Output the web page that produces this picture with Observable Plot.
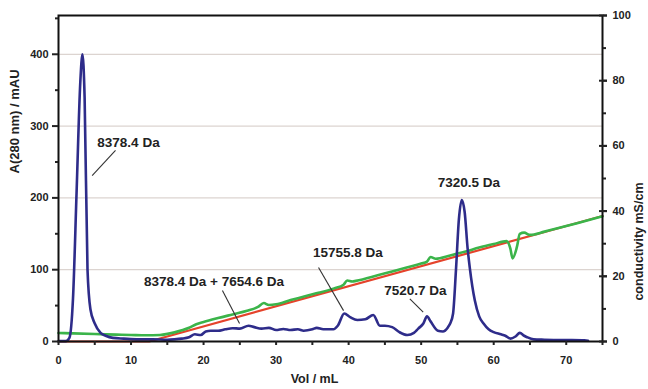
<!DOCTYPE html>
<html><head><meta charset="utf-8">
<script src="https://cdn.jsdelivr.net/npm/d3@7"></script>
<script src="https://cdn.jsdelivr.net/npm/@observablehq/plot@0.6"></script>
<style>body{margin:0;background:#fff}</style>
</head><body><div id="chart"></div>
<script>
// A(280 nm) trace (mAU) vs elution volume (mL)
const volA = [0,1.0,1.5,2.0,2.5,3.0,3.3,3.6,4.0,4.4,5.0,5.8,6.5,7.5,9,11,13,15,16,17,18,18.8,19.6,20.3,21,22,23,24,25,26.2,27,28,29,30,31,32,33,33.8,35,35.6,36.5,37.9,38.5,39.4,40.2,41.2,42.3,43.4,44.3,45,46,47,48.1,49,49.6,50.3,50.8,51.3,52.3,53,53.7,54,54.4,54.8,55.2,55.6,56.0,56.4,56.7,57.4,58,58.6,59.3,60,61,61.6,62.3,63,63.6,64.2,64.6,65.5,67,70,72.5,73];
const a280 = [0.5,0.5,5,60,210,360,400,340,100,45,25,12,8,5,4,3,3,2.5,3,4,6,10,9,14,15,15,17,18.5,18,22,20,18,19,16,17.5,16,17,15,17,19,17,17,22,39,34,30,31,37,22,22,20,13,9,12,18,25,35,28,15,14,20,25,39,100,170,197,180,130,103,57,35,25,17,13,10,8,4,7,12,8,6,3,2.5,2,1.5,1];
// conductivity trace (mS/cm)
const condVol = [0,2,5,8,10,12,14,16,18,19,20,22,24,26,27.5,28.3,29,30,32,34,36,38,39.3,39.8,40.5,41,44,46,48,50,50.8,51.3,52,54,56,58,60,61.8,62.3,62.6,63.2,63.6,64.2,65,67,70,72,75];
const cond = [2.6,2.5,2.3,2.1,2.0,1.9,2.0,2.8,4.2,5.3,6.0,7.2,8.3,9.4,10.6,11.8,11.2,11.4,12.7,13.9,15.0,16.3,17.4,18.7,18.4,18.6,20.3,21.5,22.7,23.9,24.5,25.9,25.4,26.4,27.5,28.8,29.9,30.8,28.5,25.5,29,33,33.4,32.7,33.7,35.4,36.6,38.4];
// programmed gradient (mS/cm)
const gradVol = [0, 12.5, 75];
const gradCond = [0, 0, 38.5];
// axes
const xTicks = [0,10,20,30,40,50,60,70];
const xMinor = [5,15,25,35,45,55,65,75];
const leftTicks = [0,100,200,300,400];
const leftMinor = [50,150,250,350,450];
const rightTicks = [0,20,40,60,80,100];
const rightMinor = [10,30,50,70,90];
// peak annotations
const peakLabels = ["8378.4 Da","8378.4 Da + 7654.6 Da","15755.8 Da","7520.7 Da","7320.5 Da"];
const peakX = [9.65,21.44,39.9,49.2,56.57];
const peakY = [277,83.6,124,71,220.6];
const leadX1 = [4.64,22.6,35.85,48.44];
const leadY1 = [231,71,103,59.5];
const leadX2 = [7.86,24.96,39.3,50.28];
const leadY2 = [266,25,43,40.8];

const K = 4.54; // mAU per mS/cm on the shared vertical scale

const aData = volA.map((v,i)=>({v, a:a280[i]}));
const cData = condVol.map((v,i)=>({v, c:cond[i]}));
const gData = gradVol.map((v,i)=>({v, c:gradCond[i]}));
const annData = peakLabels.map((t,i)=>({t, x:peakX[i], y:peakY[i]}));
const leadData = leadX1.map((x1,i)=>({x1, y1:leadY1[i], x2:leadX2[i], y2:leadY2[i]}));

const font = "Liberation Sans, Arial, Helvetica, sans-serif";
const blank = () => "";

const svg = Plot.plot({
  width: 648, height: 389,
  marginLeft: 58, marginRight: 46, marginTop: 15, marginBottom: 48,
  x: {domain: [0, 75]},
  y: {domain: [0, 454]},
  style: {fontFamily: font, fontSize: "11px", fontWeight: "bold", background: "#fff", color: "#222"},
  marks: [
    Plot.ruleY(leftTicks.filter(d => d > 0), {stroke: "#dcd4d0", strokeWidth: 1.3}),
    Plot.line(gData, {x: "v", y: d => d.c * K, stroke: "#e5432b", strokeWidth: 2.2}),
    Plot.line(cData, {x: "v", y: d => d.c * K, stroke: "#3bb44a", strokeWidth: 2.6, curve: "monotone-x"}),
    Plot.line(aData, {x: "v", y: "a", stroke: "#2e2c8a", strokeWidth: 2.6, curve: "monotone-x"}),
    Plot.link(leadData, {x1: "x1", y1: "y1", x2: "x2", y2: "y2", stroke: "#333", strokeWidth: 1.1}),
    Plot.text(annData, {x: "x", y: "y", text: "t", fontSize: 13.5, fontWeight: "bold", fill: "#222", ariaLabel: "annotation"}),
    Plot.frame({stroke: "#111", strokeWidth: 2}),
    Plot.axisX({ticks: xTicks, tickSize: 4, tickPadding: 11, label: null, strokeWidth: 2, fill: "#222"}),
    Plot.axisX({ticks: xMinor, tickSize: 4, tickFormat: blank, label: null, strokeWidth: 2}),
    Plot.axisY({ticks: leftTicks, tickSize: 6, tickPadding: 4, label: null, strokeWidth: 2, fill: "#222"}),
    Plot.axisY({ticks: leftMinor, tickSize: 3, tickFormat: blank, label: null, strokeWidth: 2}),
    Plot.axisY({anchor: "right", ticks: rightTicks.map(d => d * K), tickSize: 8, dx: -4, tickFormat: blank, label: null, strokeWidth: 2}),
    Plot.axisY({anchor: "right", ticks: rightMinor.map(d => d * K), tickSize: 3, tickFormat: blank, label: null, strokeWidth: 2}),
    Plot.axisY({anchor: "right", ticks: rightTicks.map(d => d * K), tickFormat: d => Math.round(d / K), tickSize: 4, tickPadding: 6, label: null, strokeWidth: 2, fill: "#222"}),
    Plot.text(["A(280 nm) / mAU"], {frameAnchor: "left", rotate: -90, dx: -44, dy: -5, fontSize: 13, fontWeight: "bold", fill: "#222"}),
    Plot.text(["conductivity mS/cm"], {frameAnchor: "right", rotate: -90, dx: 36, dy: 4, fontSize: 12.5, fontWeight: "bold", fill: "#222"}),
    Plot.text(["Vol / mL"], {frameAnchor: "bottom", dx: -16, dy: 41, fontSize: 12.5, fontWeight: "bold", fill: "#222"})
  ]
});
svg.querySelectorAll('g[aria-label="annotation"] text').forEach(t => t.style.letterSpacing = "0.45px");
document.getElementById("chart").appendChild(svg);
</script>
</body></html>
